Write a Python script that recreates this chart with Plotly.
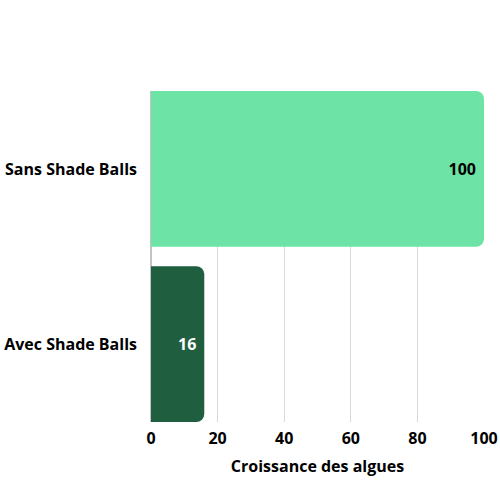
import plotly.graph_objects as go

categories = ["Avec Shade Balls", "Sans Shade Balls"]
values = [16, 100]
bar_colors = ["#1f5e3f", "#6ee3a6"]
label_colors = ["white", "black"]
x_ticks = [0, 20, 40, 60, 80, 100]

bold = dict(family="Open Sans", size=16, color="black", weight="bold")

fig = go.Figure(
    go.Bar(
        x=values,
        y=categories,
        orientation="h",
        marker=dict(color=bar_colors, line=dict(width=0)),
        text=[str(v) for v in values],
        textposition="inside",
        insidetextanchor="end",
        textfont=dict(family="Open Sans", size=16, color=label_colors, weight="bold"),
        cliponaxis=False,
    )
)

fig.update_xaxes(
    range=[0, 100],
    tickvals=x_ticks,
    showgrid=True,
    gridcolor="#d9d9d9",
    zeroline=True,
    zerolinecolor="#c4c4c4",
    tickfont=bold,
    ticklabelstandoff=5,
    automargin=False,
    title=dict(text="Croissance des algues", font=bold, standoff=12),
)

# bars fill the plot area top to bottom
fig.update_yaxes(
    range=[-0.445, 1.445],
    tickfont=bold,
    automargin=False,
    ticklabelstandoff=13,
)

fig.update_layout(
    width=500,
    height=500,
    margin=dict(l=151, r=16, t=91, b=78),
    bargap=0.11,
    barcornerradius=8,
    plot_bgcolor="white",
    paper_bgcolor="white",
    showlegend=False,
)

# drop the default 8px page margin so the figure sits at the window corner
fig.write_html(
    "out.html",
    config={"displayModeBar": False},
    post_script="document.body.style.margin = '0';",
)
